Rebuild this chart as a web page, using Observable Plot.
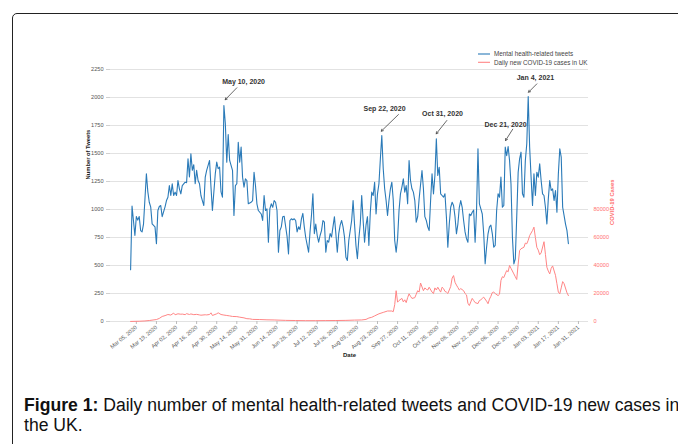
<!DOCTYPE html>
<html>
<head>
<meta charset="utf-8">
<script src="https://cdn.jsdelivr.net/npm/d3@7"></script>
<script src="https://cdn.jsdelivr.net/npm/@observablehq/plot@0.6"></script>
<style>
  html, body { margin: 0; padding: 0; background: #fff; width: 678px; height: 444px; overflow: hidden; }
  #frame { position: absolute; left: 12px; top: 13px; width: 720px; height: 480px; border: 1px solid #222; border-radius: 5px; box-sizing: border-box; }
  #chart { position: absolute; left: 0; top: 0; }
  #caption { position: absolute; left: 24px; top: 395px; font-family: "Liberation Sans", Arial, sans-serif; font-size: 17.6px; line-height: 20px; color: #111; white-space: nowrap; }
</style>
</head>
<body>
<div id="frame"></div>
<div id="chart"></div>
<div id="caption"><b>Figure 1:</b> Daily number of mental health-related tweets and COVID-19 new cases in<br>the UK.</div>
<script>
// ---- data (day index from start of series) ----
const tweetDay = [0,1,3,4,5,6,7,8,9,11,12,13,14,15,17,18,19,20,21,22,24,25,26,27,28,29,30,31,32,33,34,35,36,38,39,40,41,42,43,44,45,46,47,48,49,50,51,52,53,55,56,57,59,60,61,62,63,64,65,66,67,68,69,71,72,73,74,75,76,77,78,79,80,81,82,84,85,86,87,88,89,91,92,93,94,95,96,97,98,99,100,101,102,103,104,105,106,107,109,110,111,112,113,114,115,116,117,118,119,120,121,122,124,125,126,127,128,129,130,131,132,133,134,135,136,137,138,139,140,142,143,144,145,146,147,148,149,150,151,152,154,155,156,157,158,159,160,161,162,163,164,165,166,167,168,169,170,171,172,173,174,175,176,177,178,179,180,181,182,183,184,185,186,187,188,189,190,191,192,193,194,195,196,197,198,199,200,201,203,204,205,206,207,208,209,210,211,212,213,214,215,216,217,218,219,220,221,222,223,224,225,226,227,228,229,230,231,232,233,234,235,236,237,238,239,240,241,242,243,244,245,246,247,248,249,250,251,252,253,254,255,256,257,258,259,260,261,262,263,264,265,266,267,268,269,270,271,272,273,274,275,276,277,278,279,280,281,282,283,284,285,286,287,288,289,290,291,292,293,294,295,296,297,298,299,300,301,302,303,304,305];
const tweetCount = [462,1030,768,938,905,938,812,800,870,1319,1160,1065,1024,872,845,694,991,1027,1036,936,1024,1080,1110,1214,1125,1230,1125,1155,1125,1259,1185,1140,1214,1244,1240,1453,1290,1497,1350,1400,1230,1350,1259,1230,1125,1080,1036,1289,1350,1438,1200,991,1320,1423,1364,1378,1157,1110,1929,1766,1423,1670,1438,1350,946,1214,1230,1601,1423,1557,1289,1200,1274,1259,1051,1065,1080,1333,1214,1051,991,960,902,1125,991,1005,708,1005,1051,1020,1080,1065,991,619,812,845,936,940,760,604,902,917,908,917,902,800,845,822,917,965,845,750,619,800,946,1140,785,870,768,708,768,812,902,887,619,723,708,785,755,936,785,619,785,860,902,845,755,574,545,723,902,1080,870,680,560,740,870,1125,902,708,860,936,680,976,1155,1125,1244,960,1140,1230,1453,1661,1364,1185,1080,946,1080,1185,1244,1080,723,619,740,991,1140,1200,1274,1155,1214,1051,1438,1259,1185,1155,1080,887,936,1095,1348,1185,936,902,845,812,1080,1319,1140,1304,1631,1304,1378,1140,1125,1110,1140,936,663,870,1020,1065,1036,936,783,870,1020,1080,1020,902,800,740,708,960,946,976,995,708,991,1542,1051,1005,960,783,515,663,783,845,860,783,663,680,991,1140,1110,1289,1020,1036,1557,1480,1563,1438,1230,753,515,560,936,1333,1453,1512,1140,1110,1438,1587,2009,1557,1289,1036,1319,1125,1333,1289,1408,1259,1140,1125,1020,872,1095,1259,1170,1185,1080,1170,976,1319,1542,1468,1020,946,870,812,694];

const caseDay = [0,6,10,13,18,20,22,24,26,28,30,31,33,35,36,38,39,41,42,44,46,48,49,52,53,55,56,57,60,61,63,65,67,69,71,74,76,79,81,83,85,90,95,100,108,115,122,129,136,143,150,156,161,164,166,168,170,173,176,179,182,183,184,185,186,187,189,190,191,192,193,194,195,196,198,199,200,201,202,204,205,206,207,208,210,211,212,213,214,216,217,218,219,220,221,223,224,225,226,227,228,229,230,232,233,234,235,236,237,238,239,240,242,243,244,245,246,248,249,250,251,252,253,254,256,257,258,259,260,261,262,263,264,265,267,268,269,270,271,272,274,275,276,277,278,280,281,282,283,284,285,286,288,289,290,291,292,293,294,296,297,298,299,300,301,302,304,305];
const caseCount = [50,200,400,700,1400,2200,3600,4200,5000,4600,6000,4800,5500,5200,5300,4900,5600,5000,5400,4900,5100,4700,4500,4800,4700,5000,6200,4300,5500,6200,5000,4600,4300,4000,3600,3500,3100,2600,2000,1900,1500,1400,1200,1100,800,700,600,600,650,700,800,1000,1100,1500,2500,3000,4000,5500,6500,7500,7500,7000,12000,22000,13800,15000,16500,14000,15500,13500,17000,19800,18000,16500,17000,19500,22000,21000,27500,22000,24000,23000,22500,24500,21000,20000,24000,22500,24500,21000,24500,23500,21500,21000,20000,25000,31000,32800,28000,26000,24300,22500,23500,22000,20000,19000,13000,11400,14000,16500,15000,13500,12800,15000,15500,16500,17400,14500,12700,16000,18000,20700,21000,20000,18500,19500,29300,32000,31400,34000,36400,35500,40000,38000,34000,32000,30000,41000,50700,52000,53000,56000,55500,58000,61400,65000,67400,60000,53000,51000,47700,49000,57000,48000,38800,36000,34000,38000,39700,33000,27000,21000,19800,24000,28500,27000,20500,18500];

const tickDays = [4,18,32,46,60,74,88,102,116,130,144,158,172,186,200,214,228,242,256,270,284,298,312];
const tickLabels = ["Mar 05, 2020","Mar 19, 2020","Apr 02, 2020","Apr 16, 2020","Apr 30, 2020","May 14, 2020","May 31, 2020","Jun 14, 2020","Jun 28, 2020","Jul 12, 2020","Jul 26, 2020","Aug 09, 2020","Aug 23, 2020","Sep 27, 2020","Oct 11, 2020","Oct 25, 2020","Nov 08, 2020","Nov 22, 2020","Dec 06, 2020","Dec 20, 2020","Jan 03, 2021","Jan 17, 2021","Jan 31, 2021"];
const tweetTicks = [0,250,500,750,1000,1250,1500,1750,2000,2250];
const caseTicks = [0,20000,40000,60000,80000];
const casesPerTweetUnit = 80; // right axis: 80000 cases sits level with 1000 tweets

// annotations: text position and arrow (day index, tweet units)
const annLabel = ["May 10, 2020","Sep 22, 2020","Oct 31, 2020","Dec 21, 2020","Jan 4, 2021"];
const annTextDay = [78.7,176.9,217.3,261.2,282.0];
const annTextVal = [2137,1899,1855,1759,2176];
const annFromDay = [74.0,186.6,220.3,266.2,283.0];
const annFromVal = [2087,1848,1795,1717,2122];
const annToDay = [65.9,174.6,212.9,261.2,277.2];
const annToVal = [1980,1699,1676,1616,2047];

const legendLabels = ["Mental health-related tweets","Daily new COVID-19 cases in UK"];
const blue = "#2a7ab8", red = "#ff8585";

// ---- build tables ----
const tweets = tweetDay.map((d, i) => ({day: d, value: tweetCount[i]}));
const cases = caseDay.map((d, i) => ({day: d, value: caseCount[i]}));
const ann = annLabel.map((l, i) => ({label: l, tx: annTextDay[i], ty: annTextVal[i], x1: annFromDay[i], y1: annFromVal[i], x2: annToDay[i], y2: annToVal[i]}));
const labelOf = new Map(tickDays.map((d, i) => [d, tickLabels[i]]));
const font = "'Liberation Sans', Arial, sans-serif";

const chart = Plot.plot({
  width: 678,
  height: 380,
  marginLeft: 110,
  marginRight: 90,
  marginTop: 37,
  marginBottom: 59,
  style: {fontFamily: font, background: "transparent"},
  x: {domain: [-14, 319]},
  y: {domain: [0, 2536]},
  marks: [
    Plot.ruleY(tweetTicks, {stroke: "#e2e2e2", strokeWidth: 1}),
    Plot.axisY(tweetTicks, {anchor: "left", tickSize: 4, tickPadding: 3, stroke: "#d0d0d0", fill: "#555", fontSize: 5.6, tickFormat: d => String(d), label: null}),
    Plot.axisY(caseTicks.map(c => c / casesPerTweetUnit), {anchor: "right", tickSize: 0, tickPadding: 5, fill: "#ff7373", fontSize: 5.6, tickFormat: d => String(Math.round(d * casesPerTweetUnit)), label: null}),
    Plot.axisX(tickDays, {anchor: "bottom", tickSize: 3, tickPadding: 2, stroke: "#bbb", fill: "#555", fontSize: 5.6, tickRotate: -40, tickFormat: d => labelOf.get(d), label: null}),
    Plot.text(["Number of Tweets"], {frameAnchor: "left", dx: -22, rotate: -90, fontSize: 5.8, fontWeight: "bold", fill: "#222"}),
    Plot.text(["COVID-19 Cases"], {frameAnchor: "right", dx: 24, rotate: -90, fontSize: 5.8, fontWeight: "bold", fill: "#ff6b6b"}),
    Plot.text(["Date"], {frameAnchor: "bottom", dy: 35, fontSize: 6, fontWeight: "bold", fill: "#222"}),
    Plot.line(cases, {x: "day", y: d => d.value / casesPerTweetUnit, stroke: red, strokeWidth: 1}),
    Plot.line(tweets, {x: "day", y: "value", stroke: blue, strokeWidth: 1.1}),
    Plot.arrow(ann, {x1: "x1", y1: "y1", x2: "x2", y2: "y2", stroke: "#444", strokeWidth: 0.8, headLength: 4}),
    Plot.text(ann, {x: "tx", y: "ty", text: "label", fontSize: 7, fontWeight: "bold", fill: "#333"})
  ]
});

// legend (upper right, inside plot frame)
const svg = d3.select(chart);
const lg = svg.append("g").attr("font-family", font).attr("font-size", 6.3).attr("fill", "#444").attr("text-anchor", "start");
[[blue, 54], [red, 62.3]].forEach(([c, y], i) => {
  lg.append("line").attr("x1", 478).attr("x2", 490).attr("y1", y).attr("y2", y).attr("stroke", c).attr("stroke-width", 1.1);
  lg.append("text").attr("x", 494).attr("y", y).attr("dy", "0.35em").attr("text-anchor", "start").text(legendLabels[i]);
});

document.getElementById("chart").appendChild(chart);
</script>
</body>
</html>
